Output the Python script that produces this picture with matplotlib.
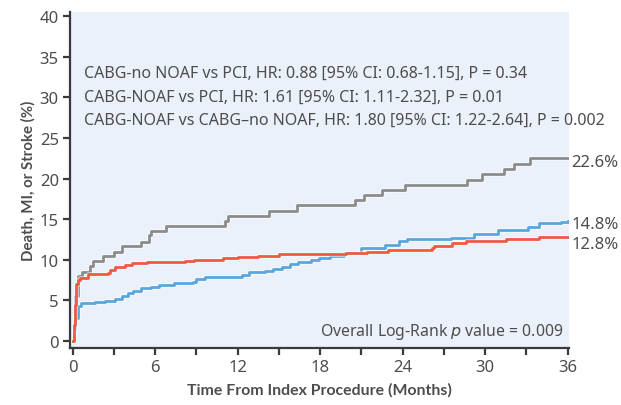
import numpy as np
import matplotlib
matplotlib.use("Agg")
import matplotlib.pyplot as plt
import matplotlib.patheffects as pe

# Kaplan-Meier style cumulative event curves (months, %)
noaf_t = [0, 0.1, 0.2, 0.39, 0.7, 1.24, 1.48, 2.2, 3.0, 3.6, 4.96, 5.56, 5.66, 6.8,
          11.1, 11.3, 14.3, 16.3, 20.5, 21.2, 22.5, 24.2, 28.7, 29.8, 31.4, 32.1, 33.25, 36]
noaf_y = [0, 2.5, 5.5, 8.0, 8.5, 9.3, 9.8, 10.5, 11.0, 11.7, 12.2, 13.0, 13.6, 14.15,
          14.8, 15.4, 16.0, 16.7, 17.35, 17.97, 18.6, 19.2, 19.85, 20.55, 21.2, 21.8, 22.5, 22.5]

no_noaf_t = [0, 0.08, 0.15, 0.27, 0.4, 0.5, 1.1, 2.6, 2.7, 3.06, 3.8, 4.3, 5.4, 8.2, 8.8,
             10.95, 12.05, 13.5, 15.0, 19.9, 21.4, 22.9, 26.1, 26.3, 27.6, 28.6, 31.5, 33.9, 36]
no_noaf_y = [0, 2.0, 4.5, 7.0, 7.5, 7.8, 8.25, 8.4, 8.8, 9.15, 9.4, 9.55, 9.7, 9.85, 10.0,
             10.2, 10.4, 10.5, 10.7, 10.8, 11.0, 11.25, 11.5, 11.7, 12.05, 12.35, 12.55, 12.75, 12.75]

pci_t = [0, 0.1, 0.2, 0.39, 0.63, 1.6, 2.33, 3.06, 3.55, 4.0, 4.4, 5.0, 5.7, 6.3, 7.4,
         8.77, 9.0, 9.6, 12.3, 12.8, 14.0, 14.6, 15.2, 15.8, 16.4, 17.3, 17.9, 18.7, 19.7,
         21.0, 22.7, 23.7, 24.3, 27.5, 29.2, 30.9, 33.1, 33.9, 35.5, 36]
pci_y = [0, 1.5, 2.8, 4.35, 4.7, 4.75, 4.95, 5.15, 5.6, 5.9, 6.2, 6.5, 6.7, 6.9, 7.2,
         7.3, 7.6, 7.9, 8.15, 8.45, 8.65, 8.85, 9.15, 9.5, 9.75, 9.95, 10.2, 10.5, 10.9,
         11.45, 11.8, 12.35, 12.55, 12.7, 13.2, 13.7, 14.1, 14.5, 14.7, 14.8]

end_labels = ["22.6%", "14.8%", "12.8%"]
end_label_y = [22.0, 14.4, 11.9]

hr_lines = [
    "CABG-no NOAF vs PCI, HR: 0.88 [95% CI: 0.68-1.15], P = 0.34",
    "CABG-NOAF vs PCI, HR: 1.61 [95% CI: 1.11-2.32], P = 0.01",
    "CABG-NOAF vs CABG\u2013no NOAF, HR: 1.80 [95% CI: 1.22-2.64], P = 0.002",
]

plt.rcParams['font.family'] = ['Noto Sans', 'DejaVu Sans']
txt_col = "#4d4d4d"

fig = plt.figure(figsize=(6.21, 4.06), dpi=100)
ax = fig.add_axes([70 / 621, 1 - 349 / 406, (569 - 70) / 621, (349 - 13) / 406])
ax.set_facecolor("#eaf1fa")

halo = [pe.Stroke(linewidth=3.4, foreground="white", alpha=0.6), pe.Normal()]
ax.step(noaf_t, noaf_y, where="post", color="#8c8c8c", lw=2.0, path_effects=halo)
ax.step(pci_t, pci_y, where="post", color="#5aa6dd", lw=2.0, path_effects=halo)
ax.step(no_noaf_t, no_noaf_y, where="post", color="#ef5a44", lw=2.0, path_effects=halo)

ax.set_xlim(-0.2, 36.1)
ax.set_ylim(-0.85, 40.5)
ax.set_xticks(np.arange(0, 37, 3))
ax.set_xticklabels([str(v) if v % 6 == 0 else "" for v in range(0, 37, 3)])
ax.set_yticks(np.arange(0, 41, 5))

for s in ["top", "right"]:
    ax.spines[s].set_visible(False)
for s in ["left", "bottom"]:
    ax.spines[s].set_color("#3a3a3a")
    ax.spines[s].set_linewidth(1.6)
ax.tick_params(direction="out", length=5, width=1.6, color="#3a3a3a",
               labelsize=12, labelcolor=txt_col, pad=3)

ax.set_xlabel("Time From Index Procedure (Months)", fontsize=11.4, fontweight="bold",
              family="Lato", color=txt_col, labelpad=5)
ax.set_ylabel("Death, MI, or Stroke (%)", fontsize=10.8, fontweight="bold",
              family="Lato", color=txt_col, labelpad=3)

for i, line in enumerate(hr_lines):
    ax.text(0.8, 33.0 - 2.9 * i, line, fontsize=11.5, color=txt_col, va="center", ha="left",
            clip_on=False)

for lab, yv in zip(end_labels, end_label_y):
    ax.text(36.3, yv, lab, fontsize=12, color=txt_col, va="center", ha="left", clip_on=False)

ax.text(35.7, 1.3, "Overall Log-Rank $\\it{p}$ value = 0.009", fontsize=11.4,
        color=txt_col, ha="right", va="center")

fig.savefig("out.png", dpi=100)
